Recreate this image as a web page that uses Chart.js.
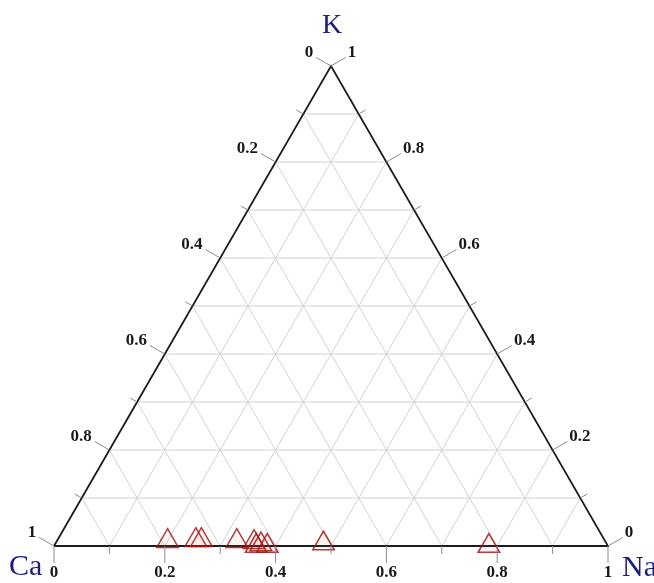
<!DOCTYPE html>
<html>
<head>
<meta charset="utf-8">
<script src="https://cdn.jsdelivr.net/npm/chart.js@4"></script>
<style>html,body{margin:0;padding:0;background:#fff;}</style>
</head>
<body>
<canvas id="tern" width="654" height="583"></canvas>
<script>
// samples as fractions of Na and K (Ca = 1 - Na - K)
var naFrac = [0.200, 0.250, 0.260, 0.325, 0.357, 0.365, 0.372, 0.385, 0.484, 0.785];
var kFrac  = [0.010, 0.012, 0.012, 0.010, 0.008, 0.000, 0.003, 0.000, 0.005, 0.000];

var gridSteps  = [0.1, 0.2, 0.3, 0.4, 0.5, 0.6, 0.7, 0.8, 0.9];
var majorTicks = [0, 0.2, 0.4, 0.6, 0.8, 1];
var minorTicks = [0.1, 0.3, 0.5, 0.7, 0.9];
var tickLabels = ['0', '0.2', '0.4', '0.6', '0.8', '1'];

var H = Math.sqrt(3) / 2;
function tern(na, k) { return { x: na + k / 2, y: k * H }; }

var samples = naFrac.map(function (na, i) { return tern(na, kFrac[i]); });

var datasets = [{
  data: samples,
  pointStyle: 'triangle',
  pointRadius: 12.5,
  borderWidth: 1.5,
  borderColor: 'rgba(165,25,25,0.85)',
  backgroundColor: 'rgba(220,60,60,0.06)',
  clip: false,
}];

// triangle outline
datasets.push({
  data: [tern(0, 0), tern(1, 0), tern(0, 1), tern(0, 0)],
  showLine: true, pointRadius: 0, borderColor: '#1c1c1c', borderWidth: 1.8, clip: false,
});

// light grid, every 0.1
gridSteps.forEach(function (g) {
  [[tern(0, g), tern(1 - g, g)],        // K const
   [tern(g, 0), tern(g, 1 - g)],        // Na const
   [tern(1 - g, 0), tern(0, 1 - g)]     // Ca const
  ].forEach(function (seg) {
    datasets.push({ data: seg, showLine: true, pointRadius: 0, borderColor: '#d2d2d2', borderWidth: 1, clip: false });
  });
});

var ternAxes = {
  id: 'ternAxes',
  afterDraw: function (chart) {
    var c = chart.ctx, sx = chart.scales.x, sy = chart.scales.y;
    function px(p) { return [sx.getPixelForValue(p.x), sy.getPixelForValue(p.y)]; }
    var cs = Math.cos(Math.PI / 6), sn = 0.5;
    c.save();
    c.strokeStyle = '#8a8a8a';
    c.lineWidth = 1;
    function tickSet(vals, len, labels) {
      vals.forEach(function (v, i) {
        // bottom: Na
        var b = px(tern(v, 0));
        var bEnd = [b[0], b[1] + len];
        // left: Ca = v  (K = 1 - v)
        var l = px(tern(0, 1 - v));
        var lEnd = [l[0] - cs * len, l[1] - sn * len];
        // right: K = v
        var r = px(tern(1 - v, v));
        var rEnd = [r[0] + cs * len, r[1] - sn * len];
        [[b, bEnd], [l, lEnd], [r, rEnd]].forEach(function (s) {
          c.beginPath(); c.moveTo(s[0][0], s[0][1]); c.lineTo(s[1][0], s[1][1]); c.stroke();
        });
        if (labels) {
          c.fillStyle = '#1a1a1a';
          c.font = 'bold 17px "Liberation Serif"';
          c.textAlign = 'center'; c.textBaseline = 'top';
          c.fillText(labels[i], bEnd[0], bEnd[1] + 1);
          c.textAlign = 'right'; c.textBaseline = 'middle';
          c.fillText(labels[i], lEnd[0] - 3, lEnd[1] - 5);
          c.textAlign = 'left';
          c.fillText(labels[i], rEnd[0] + 2, rEnd[1] - 5);
        }
      });
    }
    tickSet(minorTicks, 8, null);
    tickSet(majorTicks, 17, tickLabels);

    // corner names
    c.fillStyle = '#1c1c82';
    c.textBaseline = 'middle';
    var top = px(tern(0, 1)), ca = px(tern(0, 0)), na = px(tern(1, 0));
    c.font = '28px "Liberation Serif"';
    c.textAlign = 'center';
    c.fillText('K', top[0] + 1, top[1] - 40);
    c.font = '30px "Liberation Serif"';
    c.textAlign = 'left';
    c.fillText('Ca', ca[0] - 45, ca[1] + 21);
    c.fillText('Na', na[0] + 14, na[1] + 22);
    c.restore();
  }
};

var ctx = document.getElementById('tern').getContext('2d');
var myChart = new Chart(ctx, {
  type: 'scatter',
  data: { datasets: datasets },
  options: {
    responsive: false,
    animation: false,
    layout: { padding: { left: 54, right: 46, top: 66, bottom: 37 } },
    plugins: { legend: { display: false }, tooltip: { enabled: false } },
    scales: {
      x: { display: false, min: 0, max: 1 },
      y: { display: false, min: 0, max: H },
    },
  },
  plugins: [ternAxes],
});
</script>
</body>
</html>
